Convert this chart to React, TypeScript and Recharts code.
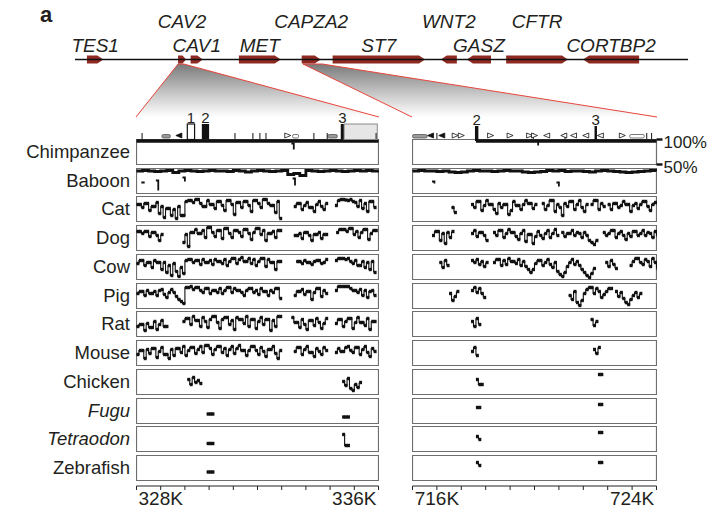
import React from 'react';
import { ComposedChart, Line, XAxis, YAxis, ReferenceArea, ReferenceLine, Scatter, Area } from 'recharts';

const FONT = '"Liberation Sans", Arial, Helvetica, sans-serif';
const TEXT = '#231f20';
const GENE_COLOR = '#8e2a22';
const ZOOM_RED = '#e8453c';

// ---------------- Gene track (kb along the region) ----------------
const geneNames = ['TES1', 'CAV2', 'CAV1', 'MET', 'CAPZA2', 'ST7', 'WNT2', 'GASZ', 'CFTR', 'CORTBP2'];
const geneStart = [44, 327, 366, 516, 711, 807, 1143, 1224, 1346, 1585];
const geneEnd = [95, 352, 404, 646, 770, 1094, 1193, 1299, 1538, 1759];
const geneStrand = [1, 1, 1, 1, 1, 1, -1, -1, 1, -1];
const geneLabelRow = [2, 1, 2, 2, 1, 2, 1, 2, 1, 2];
const regionSpan = [7, 1911];
const zoomTopL = [327, 345];
const zoomTopR = [715, 775];

// ---------------- Species ----------------
const species = ['Chimpanzee', 'Baboon', 'Cat', 'Dog', 'Cow', 'Pig', 'Rat', 'Mouse', 'Chicken', 'Fugu', 'Tetraodon', 'Zebrafish'];
const speciesItalic = [0, 0, 0, 0, 0, 0, 0, 0, 0, 1, 1, 0];

// ---------------- Axes ----------------
const domainL = [327, 337];
const domainR = [715, 725];
const ticksL = [327, 328, 329, 330, 331, 332, 333, 334, 335, 336, 337];
const ticksR = [715, 716, 717, 718, 719, 720, 721, 722, 723, 724, 725];
const labeledL = [328, 336];
const labeledR = [716, 724];
const pctTicks = [50, 100];

// ---------------- Conservation (% identity), runs of values every d kb ----------------
const chimpL = [{ s: 327, d: 0.5, v: [97, 97, 97, 97, 97, 97, 97, 97, 97, 97, 97, 97, 97, 97, 97, 97, 97, 97, 97, 97, 97] }];
const chimpLx = [{ s: 333.4, v: [92, 80] }];
const baboonL = [{ s: 327, d: 0.25, v: [95, 96, 95, 94, 95, 96, 92, 95, 96, 95, 94, 95, 96, 95, 95, 94, 96, 95, 93, 95, 96, 95, 94, 95, 96, 88, 90, 86, 96, 95, 94, 95, 96, 95, 94, 95, 96, 95, 96, 95, 96] }];
const baboonLx = [{ s: 327.2, v: [72, 70] }, { s: 327.8, v: [76, 56] }, { s: 328.9, v: [82, 74] }, { s: 333.45, v: [80, 66] }];
const catL = [
  { s: 327.0, v: [84, 84, 78, 86, 86, 72, 80, 80, 88, 66, 80, 58, 76, 76, 62, 74, 56, 80, 62, 62, 90, 92, 92, 88, 94, 94, 86, 80, 80, 92, 84, 84, 76, 90, 90, 82, 72, 92, 92, 84, 64, 88, 88, 78, 90, 90, 82, 70, 92, 92, 86, 78, 94, 94, 86, 82, 82, 68, 90, 56] },
  { s: 333.5, v: [80, 86, 86, 74, 82, 88, 78, 78, 70, 84, 90, 80, 74, 86] },
  { s: 335.2, v: [82, 92, 94, 94, 93, 92, 94, 90, 88, 80, 92, 76, 86, 70, 90, 90, 78] },
];
const dogL = [
  { s: 327.0, v: [88, 88, 84, 88, 88, 78, 86, 86, 80, 70, 82] },
  { s: 328.9, v: [66, 82, 58, 86, 86, 92, 84, 84, 90, 76, 96, 96, 86, 78, 90, 90, 74, 94, 94, 84, 76, 90, 90, 86, 78, 92, 92, 84, 72, 86, 94, 94, 82, 90, 70, 84, 84, 88, 76, 90, 90] },
  { s: 333.5, v: [80, 80, 84, 74, 86, 86, 80, 70, 82, 82, 86, 74, 82, 82] },
  { s: 335.25, v: [86, 92, 92, 92, 88, 94, 94, 82, 88, 76, 86, 92, 92, 72, 84, 90, 90] },
];
const cowL = [
  { s: 327.0, v: [82, 88, 88, 78, 84, 84, 74, 88, 84, 84, 70, 84, 64, 78, 58, 82, 66, 56, 74, 62, 88, 90, 90, 84, 88, 88, 80, 90, 84, 84, 88, 80, 90, 86, 86, 82, 90, 78, 86, 92, 92, 82, 90, 94, 86, 86, 92, 82, 90, 78, 86, 92, 92, 76, 90, 84, 84, 70, 86, 86] },
  { s: 333.6, v: [86, 86, 82, 88, 84, 84, 80, 86, 88, 88, 82, 84, 90] },
  { s: 335.2, v: [88, 92, 92, 92, 90, 92, 86, 82, 88, 78, 78, 86, 74, 84, 70, 86, 64] },
];
const pigL = [
  { s: 327.0, v: [80, 84, 84, 76, 86, 80, 80, 84, 76, 86, 88, 78, 72, 82, 88, 82, 74, 68, 64, 60, 92, 92, 94, 88, 92, 92, 86, 82, 90, 90, 80, 86, 86, 82, 90, 80, 86, 92, 92, 82, 90, 86, 86, 82, 76, 86, 90, 90, 82, 86, 78, 90, 84, 84, 76, 86, 82, 90, 90, 70] },
  { s: 333.5, v: [76, 84, 84, 88, 78, 84, 84, 68, 82, 90, 90, 74, 86, 80] },
  { s: 335.2, v: [86, 94, 94, 94, 94, 94, 90, 86, 86, 82, 88, 76, 86, 72, 84, 86, 76] },
];
const ratL = [
  { s: 327.0, v: [70, 74, 74, 62, 76, 68, 68, 80, 64, 74, 82, 70, 70] },
  { s: 328.9, v: [80, 86, 86, 74, 90, 82, 82, 70, 88, 80, 68, 84, 90, 90, 78, 66, 84, 88, 88, 74, 82, 64, 88, 84, 84, 76, 90, 70, 84, 84, 66, 80, 88, 74, 84, 84, 62, 82, 70, 90, 90] },
  { s: 333.4, v: [88, 78, 78, 68, 84, 74, 64, 82, 82, 72, 86, 78, 66, 76, 86] },
  { s: 335.2, v: [76, 84, 84, 70, 80, 86, 86, 66, 78, 88, 78, 78, 72, 86, 64, 80, 80] },
];
const mouseL = [
  { s: 327.0, v: [72, 80, 80, 64, 82, 74, 84, 84, 66, 78, 86, 72, 72, 64, 82, 70, 84, 84, 76, 88, 70, 80, 86, 86, 74, 82, 88, 76, 90, 90, 84, 72, 82, 88, 88, 76, 84, 70, 82, 88, 74, 84, 90, 80, 80, 70, 80, 88, 88, 80, 72, 86, 78, 68, 82, 82, 88, 74, 64, 80] },
  { s: 333.5, v: [78, 86, 86, 72, 82, 88, 76, 76, 68, 84, 78, 72, 86, 80] },
  { s: 335.2, v: [76, 84, 78, 78, 86, 88, 80, 76, 86, 86, 72, 82, 88, 76, 68, 84, 78] },
];
const chickenL = [{ s: 329.1, v: [80, 70, 84, 74, 78, 72] }, { s: 335.5, v: [76, 68, 82, 62, 58, 70, 64, 74] }];
const fuguL = [{ s: 329.9, v: [69, 69, 69] }, { s: 335.5, v: [63, 63, 63] }];
const tetraodonL = [{ s: 329.9, v: [66, 66, 66] }, { s: 335.5, v: [84, 62, 62] }];
const zebrafishL = [{ s: 329.9, v: [67, 67, 67] }];

const chimpR = [{ s: 717.6, d: 0.74, v: [97, 97, 97, 97, 97, 97, 97, 97, 97, 97, 97] }];
const chimpRx = [{ s: 720.05, v: [97, 88] }];
const baboonR = [{ s: 715, d: 0.25, v: [95, 96, 95, 95, 94, 95, 93, 92, 93, 95, 96, 95, 95, 94, 95, 96, 95, 95, 93, 92, 93, 94, 96, 95, 96, 94, 95, 95, 94, 93, 95, 96, 95, 94, 93, 92, 93, 94, 95, 96, 95] }];
const baboonRx = [{ s: 715.8, v: [74, 70] }, { s: 720.9, v: [72, 64] }];
const catR = [
  { s: 716.6, v: [78, 68] },
  { s: 717.4, v: [84, 78, 90, 90, 72, 82, 92, 84, 84, 74, 66, 86, 78, 84, 84, 64, 72, 90, 82, 82, 74, 84, 92, 86, 86, 76, 84] },
  { s: 720.3, v: [86, 74, 82, 92, 92, 70, 84, 78, 62, 86, 80, 90, 90, 74, 84, 92, 78, 70, 84] },
  { s: 722.3, v: [84, 92, 92, 74, 86, 80] },
  { s: 723.0, v: [84, 74, 86, 86, 78, 82, 90, 84, 84, 70, 82, 86, 76, 84, 90, 90, 80, 72, 84, 88, 88] },
];
const dogR = [
  { s: 715.8, v: [80, 88, 88, 70, 84, 64, 86, 76, 88] },
  { s: 717.4, v: [84, 90, 78, 86, 86, 80, 70] },
  { s: 718.3, v: [86, 80, 90, 90, 76, 84, 92, 86, 86, 78, 72, 84, 90, 68, 82, 82, 64, 78, 88, 80, 74, 84, 90, 76, 84, 92, 80] },
  { s: 721.1, v: [86, 78, 84, 84, 90, 80, 86, 84, 76, 86, 80, 70, 66, 62, 70] },
  { s: 722.8, v: [86, 80, 84, 90, 90, 76, 84, 88, 80, 72, 84, 78, 88, 88, 80, 84, 90, 80, 86, 84, 76, 88, 80] },
];
const cowR = [
  { s: 716.1, v: [84, 74, 88, 78] },
  { s: 717.4, v: [88, 84, 90, 80, 86, 76, 84] },
  { s: 718.3, v: [84, 90, 90, 78, 88, 80, 92, 86, 86, 82, 90, 78, 86, 76, 70, 64, 70, 82, 88, 88, 78, 84, 90, 80, 74, 84, 66, 60, 56, 64, 76, 84, 90, 80, 86, 78, 70, 64, 58, 54, 62, 72] },
  { s: 722.9, v: [84, 76, 88, 80, 72] },
  { s: 723.9, v: [78, 86, 92, 92, 84, 80, 90, 86, 76, 92, 84, 72] },
];
const pigR = [
  { s: 716.5, v: [80, 66, 74, 84] },
  { s: 717.4, v: [86, 92, 82, 90, 80, 72] },
  { s: 721.4, v: [76, 68, 84, 62, 56, 66, 80, 88, 92, 92, 80, 90, 84, 72, 78, 84, 90, 90] },
  { s: 723.3, v: [84, 74, 82, 70, 62, 58, 68, 76, 82, 72, 80] },
];
const ratR = [{ s: 717.4, v: [80, 70, 86, 74] }, { s: 722.3, v: [84, 72, 80] }];
const mouseR = [{ s: 717.4, v: [78, 86, 70] }, { s: 722.4, v: [82, 74, 86] }];
const chickenR = [{ s: 717.6, v: [80, 70, 70] }, { s: 722.6, v: [90, 90] }];
const fuguR = [{ s: 717.6, v: [82, 82] }, { s: 722.6, v: [88, 88] }];
const tetraodonR = [{ s: 717.6, v: [80, 74] }, { s: 722.6, v: [88, 88] }];
const zebrafishR = [{ s: 717.6, v: [86, 80] }, { s: 722.6, v: [86, 86] }];

const rowsL = [chimpL, baboonL, catL, dogL, cowL, pigL, ratL, mouseL, chickenL, fuguL, tetraodonL, zebrafishL];
const rowsR = [chimpR, baboonR, catR, dogR, cowR, pigR, ratR, mouseR, chickenR, fuguR, tetraodonR, zebrafishR];
const extrasL = [chimpLx, baboonLx];
const extrasR = [chimpRx, baboonRx];

// ---------------- Human annotation above the chimp row ----------------
const annTicksL = [327.23, 331.07, 331.81, 332.1, 332.35, 334.33, 334.88, 336.9];
const annTicksR = [716.0, 719.95, 721.25, 724.6, 724.8];
const annTrisL = [{ x: 328.75, dir: -1, f: 1 }, { x: 333.25, dir: 1, f: 0 }];
const annTrisR = [
  { x: 715.74, dir: -1, f: 1 }, { x: 716.2, dir: -1, f: 1 }, { x: 716.75, dir: 1, f: 0 }, { x: 717.0, dir: 1, f: 0 },
  { x: 718.2, dir: 1, f: 0 }, { x: 719.0, dir: 1, f: 0 }, { x: 719.8, dir: 1, f: 0 }, { x: 720.0, dir: 1, f: 0 },
  { x: 720.5, dir: -1, f: 0 }, { x: 721.2, dir: -1, f: 0 }, { x: 721.6, dir: -1, f: 0 }, { x: 722.1, dir: -1, f: 0 },
  { x: 722.7, dir: -1, f: 0 }, { x: 723.6, dir: 1, f: 0 },
];
const annBoxesL = [{ s: 328.05, e: 328.4, fill: '#9a9a9a' }, { s: 333.45, e: 333.7, fill: '#ffffff' }, { s: 334.9, e: 335.3, fill: '#9a9a9a' }];
const annBoxesR = [{ s: 715.0, e: 715.6, fill: '#9a9a9a' }, { s: 723.9, e: 724.5, fill: '#ffffff' }];
const exonsL = [
  { s: 329.1, e: 329.4, kind: 'open', label: '1', top: 18 },
  { s: 329.7, e: 330.0, kind: 'black', label: '2', top: 18 },
  { s: 335.44, e: 335.58, kind: 'black', label: '3', top: 18 },
  { s: 335.58, e: 336.95, kind: 'utr', label: '', top: 18 },
];
const exonsR = [
  { s: 717.56, e: 717.7, kind: 'black', label: '2', top: 20 },
  { s: 722.46, e: 722.56, kind: 'black', label: '3', top: 20 },
];

// ---------------- Layout ----------------
const W = 718;
const TRACK_H = 120;
const TRACK_DOMAIN = [-226, 2004];
const GENE_Y = [55.5, 63.5];
const LINE_Y = 59.5;
const ZOOM_Y = [64, 117];
const PANEL_L = { left: 136, width: 243 };
const PANEL_R = { left: 412, width: 245 };
const ROW_TOP0 = 139;
const ROW_PITCH = 28.73;
const ROW_H = 26;
const ANN_TOP = 106;
const ANN_H = 36;
const AXIS_TOP = 476;
const PCT_W = 60;
const PCT_PAD = 12;

const pxToTrack = (px: number) => TRACK_DOMAIN[0] + (px / W) * (TRACK_DOMAIN[1] - TRACK_DOMAIN[0]);
const rowTop = (i: number) => ROW_TOP0 + Math.round(i * ROW_PITCH);

type Run = { s: number; d?: number; v: number[] };
function toPoints(runs: Run[]) {
  const pts: { x: number; y: number | null }[] = [];
  runs.forEach((r) => {
    const d = r.d ?? 0.1;
    r.v.forEach((y, j) => pts.push({ x: r.s + j * d, y }));
    pts.push({ x: r.s + (r.v.length - 1) * d + 0.001, y: null });
  });
  return pts;
}

function geneShape(i: number) {
  return (p: any) => {
    const { x, y, width, height } = p;
    const tip = Math.min(6, width * 0.45);
    const mid = y + height / 2;
    const pts =
      geneStrand[i] > 0
        ? `${x},${y} ${x + width - tip},${y} ${x + width},${mid} ${x + width - tip},${y + height} ${x},${y + height}`
        : `${x + tip},${y} ${x + width},${y} ${x + width},${y + height} ${x + tip},${y + height} ${x},${mid}`;
    const ly = geneLabelRow[i] === 1 ? y - 27.5 : y - 3.5;
    return (
      <g>
        <polygon points={pts} fill={GENE_COLOR} />
        <text x={x + width / 2} y={ly} textAnchor="middle" fontFamily={FONT} fontStyle="italic" fontSize={19} fill={TEXT}>
          {geneNames[i]}
        </text>
      </g>
    );
  };
}

function GeneTrack() {
  const zoomL = [
    { x: pxToTrack(PANEL_L.left), y: ZOOM_Y[1] },
    { x: zoomTopL[0], y: ZOOM_Y[0] },
    { x: zoomTopL[1], y: ZOOM_Y[0] },
    { x: pxToTrack(PANEL_L.left + PANEL_L.width), y: ZOOM_Y[1] },
  ];
  const zoomR = [
    { x: pxToTrack(PANEL_R.left), y: ZOOM_Y[1] },
    { x: zoomTopR[0], y: ZOOM_Y[0] },
    { x: zoomTopR[1], y: ZOOM_Y[0] },
    { x: pxToTrack(PANEL_R.left + PANEL_R.width), y: ZOOM_Y[1] },
  ];
  return (
    <div style={{ position: 'absolute', left: 0, top: 0 }}>
      <ComposedChart width={W} height={TRACK_H} margin={{ top: 0, right: 0, bottom: 0, left: 0 }}>
        <defs>
          <linearGradient id="zoomFill" x1="0" y1="0" x2="0" y2="1">
            <stop offset="0" stopColor="#7a7a7a" />
            <stop offset="0.6" stopColor="#cdcdcd" />
            <stop offset="1" stopColor="#ffffff" />
          </linearGradient>
        </defs>
        <XAxis type="number" dataKey="x" domain={TRACK_DOMAIN} hide />
        <YAxis type="number" dataKey="y" domain={[0, TRACK_H]} reversed hide />
        <Area data={zoomL} dataKey="y" type="linear" baseValue={ZOOM_Y[1]} fill="url(#zoomFill)" fillOpacity={1} stroke={ZOOM_RED} strokeWidth={1} dot={false} activeDot={false} isAnimationActive={false} />
        <Area data={zoomR} dataKey="y" type="linear" baseValue={ZOOM_Y[1]} fill="url(#zoomFill)" fillOpacity={1} stroke={ZOOM_RED} strokeWidth={1} dot={false} activeDot={false} isAnimationActive={false} />
        <ReferenceLine segment={[{ x: regionSpan[0], y: LINE_Y }, { x: regionSpan[1], y: LINE_Y }]} stroke="#111" strokeWidth={1.3} />
        {geneNames.map((g, i) => (
          <ReferenceArea key={g} x1={geneStart[i]} x2={geneEnd[i]} y1={GENE_Y[0]} y2={GENE_Y[1]} shape={geneShape(i)} />
        ))}
      </ComposedChart>
    </div>
  );
}

function RowChart({ panel, domain, top, runs, extra, idx, withPct }: any) {
  const main = toPoints(runs);
  const ex = extra ? toPoints(extra) : null;
  const flat = idx < 2;
  const pxPerKb = (panel.width - 1) / (domain[1] - domain[0]);
  const dashW = pxPerKb * 0.1 + 0.5;
  const dashes = flat ? [] : main.filter((p) => p.y !== null);
  const dashShape = (p: any) => <rect x={p.cx} y={p.cy - 1.7} width={dashW} height={3.4} fill="#111" />;
  const pad = withPct ? PCT_PAD : 0;
  return (
    <div style={{ position: 'absolute', left: panel.left, top: top - pad }}>
      <ComposedChart
        width={panel.width + (withPct ? PCT_W : 0)}
        height={ROW_H + 2 * pad}
        margin={{ top: 0.5 + pad, right: 0.5, bottom: 0.5 + pad, left: 0.5 }}
      >
        <XAxis type="number" dataKey="x" domain={domain} hide />
        <YAxis
          type="number"
          dataKey="y"
          domain={[50, 100]}
          hide={!withPct}
          orientation="right"
          ticks={pctTicks}
          interval={0}
          tickFormatter={(v: number) => `${v}%`}
          width={withPct ? PCT_W : 0}
          axisLine={false}
          tickSize={6}
          tickMargin={1}
          tickLine={{ stroke: '#111', strokeWidth: 2.4 }}
          tick={{ fontSize: 17, fill: TEXT, fontFamily: FONT, dy: 2 }}
        />
        <ReferenceArea x1={domain[0]} x2={domain[1]} y1={50} y2={100} fill="#fff" fillOpacity={1} stroke="#6e6e6e" strokeWidth={1.2} />
        <Line data={main} dataKey="y" type="stepAfter" stroke="#111" strokeWidth={flat ? (idx === 0 ? 3.5 : 2.8) : 1.1} dot={false} activeDot={false} isAnimationActive={false} connectNulls={false} />
        {!flat && <Scatter data={dashes} dataKey="y" shape={dashShape} isAnimationActive={false} />}
        {ex && <Line data={ex} dataKey="y" type="stepAfter" stroke="#111" strokeWidth={1.8} dot={false} activeDot={false} isAnimationActive={false} connectNulls={false} />}
      </ComposedChart>
    </div>
  );
}

function exonShape(ex: any) {
  return (p: any) => {
    const { x, y, width, height } = p;
    let rect;
    if (ex.kind === 'open') rect = <rect x={x} y={y} width={width} height={height} fill="#fff" stroke="#111" strokeWidth={1.2} />;
    else if (ex.kind === 'utr') rect = <rect x={x} y={y} width={width} height={height} fill="#e6e6e6" stroke="#8a8a8a" strokeWidth={1} />;
    else rect = <rect x={x} y={y} width={width} height={height} fill="#111" />;
    return (
      <g>
        {rect}
        {ex.label && (
          <text x={x + width / 2} y={y - 1} textAnchor="middle" fontFamily={FONT} fontSize={15} fill={TEXT}>
            {ex.label}
          </text>
        )}
      </g>
    );
  };
}

function boxShape(fill: string) {
  return (p: any) => <rect x={p.x} y={p.y} width={p.width} height={p.height} rx={1.5} fill={fill} stroke="#555" strokeWidth={0.8} />;
}

const triShape = (p: any) => {
  const { cx, cy, payload } = p;
  const d = payload.dir;
  const pts = `${cx - 3 * d},${cy - 2.5} ${cx + 3 * d},${cy} ${cx - 3 * d},${cy + 2.5}`;
  return <polygon points={pts} fill={payload.f ? '#111' : '#fff'} stroke="#111" strokeWidth={0.8} />;
};

function Annotation({ panel, domain, ticks, tris, boxes, exons }: any) {
  const triData = tris.map((t: any) => ({ ...t, y: 29.5 }));
  return (
    <div style={{ position: 'absolute', left: panel.left, top: ANN_TOP }}>
      <ComposedChart width={panel.width} height={ANN_H} margin={{ top: 0, right: 0.5, bottom: 0, left: 0.5 }}>
        <XAxis type="number" dataKey="x" domain={domain} hide />
        <YAxis type="number" dataKey="y" domain={[0, ANN_H]} reversed hide />
        {ticks.map((t: number, i: number) => (
          <ReferenceLine key={'t' + i} segment={[{ x: t, y: 27 }, { x: t, y: 33 }]} stroke="#111" strokeWidth={1} />
        ))}
        {boxes.map((b: any, i: number) => (
          <ReferenceArea key={'b' + i} x1={b.s} x2={b.e} y1={28.5} y2={32} shape={boxShape(b.fill)} />
        ))}
        {exons.map((e: any, i: number) => (
          <ReferenceArea key={'e' + i} x1={e.s} x2={e.e} y1={e.top} y2={e.kind === 'black' && e.top > 19 ? 35 : 33.5} shape={exonShape(e)} />
        ))}
        <Scatter data={triData} dataKey="y" shape={triShape} isAnimationActive={false} />
      </ComposedChart>
    </div>
  );
}

function AxisChart({ panel, domain, ticks, labeled }: any) {
  return (
    <div style={{ position: 'absolute', left: panel.left, top: AXIS_TOP }}>
      <ComposedChart width={panel.width} height={42} margin={{ top: 0, right: 0.5, bottom: 0, left: 0.5 }}>
        <XAxis
          type="number"
          dataKey="x"
          domain={domain}
          ticks={ticks}
          interval={0}
          allowDataOverflow
          height={32}
          tickSize={4}
          tickMargin={2}
          stroke="#222"
          tickFormatter={(v: number) => (labeled.includes(v) ? `${v}K` : '')}
          tick={{ fontSize: 19, fill: TEXT, fontFamily: FONT }}
        />
        <YAxis type="number" domain={[0, 1]} hide />
      </ComposedChart>
    </div>
  );
}

export default function App() {
  return (
    <div style={{ position: 'absolute', left: 0, top: 0, width: W, height: 513, background: '#fff', fontFamily: FONT, color: TEXT, overflow: 'hidden' }}>
      <GeneTrack />
      <div style={{ position: 'absolute', left: 40, top: 4, fontSize: 22, fontWeight: 'bold', lineHeight: '22px' }}>a</div>
      {species.map((name, i) => (
        <div
          key={name}
          style={{
            position: 'absolute',
            left: 0,
            width: 130,
            top: rowTop(i),
            height: ROW_H,
            lineHeight: ROW_H + 'px',
            textAlign: 'right',
            fontSize: 18.5,
            fontStyle: speciesItalic[i] ? 'italic' : 'normal',
          }}
        >
          {name}
        </div>
      ))}
      {rowsL.map((runs, i) => (
        <RowChart key={'L' + i} panel={PANEL_L} domain={domainL} top={rowTop(i)} runs={runs} extra={extrasL[i]} idx={i} />
      ))}
      {rowsR.map((runs, i) => (
        <RowChart key={'R' + i} panel={PANEL_R} domain={domainR} top={rowTop(i)} runs={runs} extra={extrasR[i]} idx={i} withPct={i === 0} />
      ))}
      <Annotation panel={PANEL_L} domain={domainL} ticks={annTicksL} tris={annTrisL} boxes={annBoxesL} exons={exonsL} />
      <Annotation panel={PANEL_R} domain={domainR} ticks={annTicksR} tris={annTrisR} boxes={annBoxesR} exons={exonsR} />
      <AxisChart panel={PANEL_L} domain={domainL} ticks={ticksL} labeled={labeledL} />
      <AxisChart panel={PANEL_R} domain={domainR} ticks={ticksR} labeled={labeledR} />
    </div>
  );
}
